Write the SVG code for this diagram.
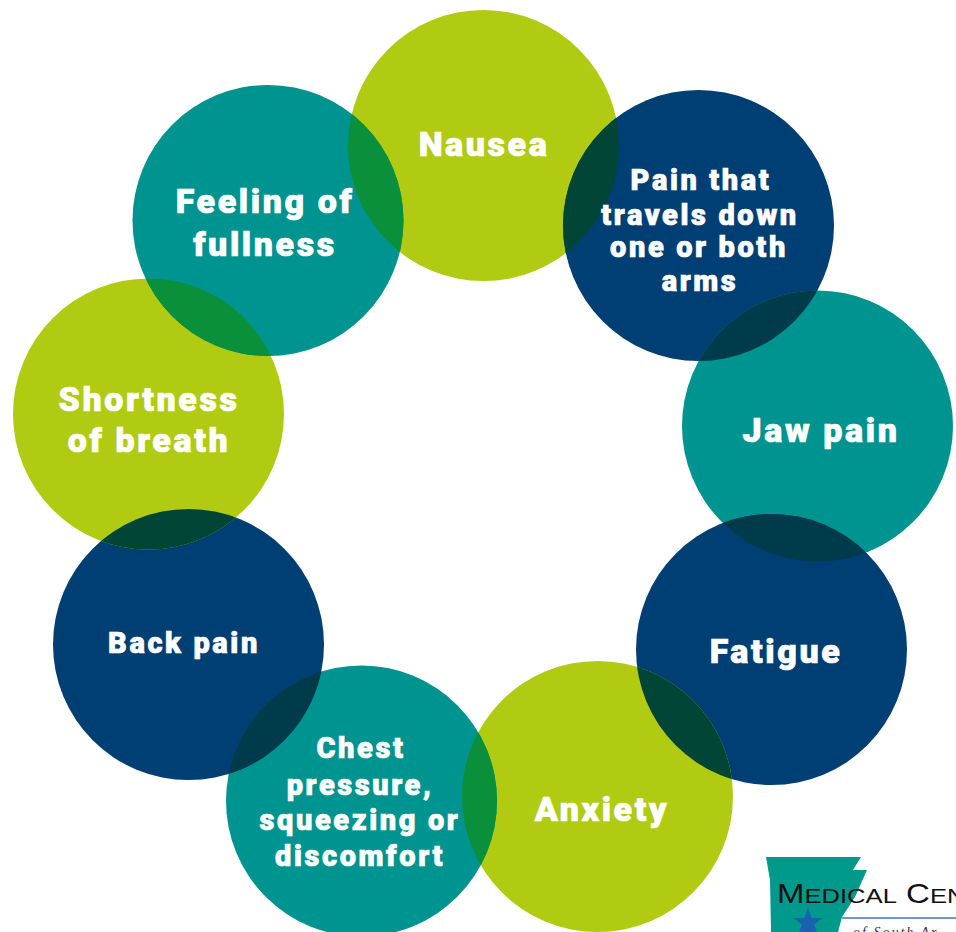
<svg xmlns="http://www.w3.org/2000/svg" width="956" height="932" viewBox="0 0 956 932">
<style>
.lime{fill:#b1cb12}.teal{fill:#009490}.navy{fill:#003f73}
.lt{fill:#0a8f3a}.ln{fill:#004536}.tn{fill:#003b4c}
.t{font-family:"Roboto","Liberation Sans",sans-serif;font-weight:900;fill:#fff;stroke:#fff;stroke-width:.7px;text-anchor:middle;letter-spacing:2.6px}
.f30{font-size:34px}.f28{font-size:29px}
</style>
<defs>
<circle id="c1" cx="483.5" cy="145.5" r="135.5"/>
<circle id="c2" cx="698.5" cy="225.5" r="135.5"/>
<circle id="c3" cx="817.5" cy="426" r="135.5"/>
<circle id="c4" cx="771.5" cy="649.5" r="135.5"/>
<circle id="c5" cx="597.5" cy="796.5" r="135.5"/>
<circle id="c6" cx="361.5" cy="801" r="135.5"/>
<circle id="c7" cx="188.5" cy="644.5" r="135.5"/>
<circle id="c8" cx="148.5" cy="414" r="135.5"/>
<circle id="c9" cx="268" cy="220.5" r="135.5"/>
<clipPath id="k1"><use href="#c1"/></clipPath>
<clipPath id="k3"><use href="#c3"/></clipPath>
<clipPath id="k5"><use href="#c5"/></clipPath>
<clipPath id="k7"><use href="#c7"/></clipPath>
<clipPath id="k9"><use href="#c9"/></clipPath>
</defs>
<rect width="956" height="932" fill="#fff"/>
<g id="node-nausea"><use href="#c1" class="lime"/></g>
<g id="node-arms"><use href="#c2" class="navy"/></g>
<g id="node-jaw"><use href="#c3" class="teal"/></g>
<g id="node-fatigue"><use href="#c4" class="navy"/></g>
<g id="node-anxiety"><use href="#c5" class="lime"/></g>
<g id="node-chest"><use href="#c6" class="teal"/></g>
<g id="node-back"><use href="#c7" class="navy"/></g>
<g id="node-breath"><use href="#c8" class="lime"/></g>
<g id="node-fullness"><use href="#c9" class="teal"/></g>
<g id="overlaps">
<use href="#c9" class="lt" clip-path="url(#k1)"/>
<use href="#c2" class="ln" clip-path="url(#k1)"/>
<use href="#c2" class="tn" clip-path="url(#k3)"/>
<use href="#c4" class="tn" clip-path="url(#k3)"/>
<use href="#c4" class="ln" clip-path="url(#k5)"/>
<use href="#c6" class="lt" clip-path="url(#k5)"/>
<use href="#c6" class="tn" clip-path="url(#k7)"/>
<use href="#c8" class="ln" clip-path="url(#k7)"/>
<use href="#c8" class="lt" clip-path="url(#k9)"/>
</g>
<g id="labels">
<text class="t f30" x="484" y="156">Nausea</text>
<text class="t f28" x="701" y="190">Pain that</text>
<text class="t f28" x="700" y="225">travels down</text>
<text class="t f28" x="699" y="257">one or both</text>
<text class="t f28" x="700" y="291">arms</text>
<text class="t f30" x="821" y="442">Jaw pain</text>
<text class="t f30" x="776" y="663">Fatigue</text>
<text class="t f30" x="602" y="821">Anxiety</text>
<text class="t f28" x="361" y="758">Chest</text>
<text class="t f28" x="360" y="795">pressure,</text>
<text class="t f28" x="360" y="830">squeezing or</text>
<text class="t f28" x="360" y="866">discomfort</text>
<text class="t f28" x="184" y="653">Back pain</text>
<text class="t f30" x="149" y="411">Shortness</text>
<text class="t f30" x="149" y="452">of breath</text>
<text class="t f30" x="265" y="213">Feeling of</text>
<text class="t f30" x="265" y="256">fullness</text>
</g>
<g id="logo">
<path d="M766 857H861L853 870H867L855 897L842 917L838 932H771L770 880Z" fill="#009a8c"/>
<path d="M842 918H956" stroke="#3f78b0" stroke-width="1.5" fill="none"/>
<path d="M808 907L811.500 918L822 918L814 925L817 932H799L802 925L794 918L804.500 918Z" fill="#1a62b0"/>
<text transform="translate(777 903) scale(1.22 1)" font-family="'Liberation Sans',sans-serif" font-size="27" fill="#111">M<tspan font-size="21">EDICAL</tspan> C<tspan font-size="21">EN</tspan></text>
<text x="853" y="937" font-family="'Liberation Serif',serif" font-style="italic" font-size="14" letter-spacing="2" fill="#333">of South Ar</text>
</g>
</svg>
